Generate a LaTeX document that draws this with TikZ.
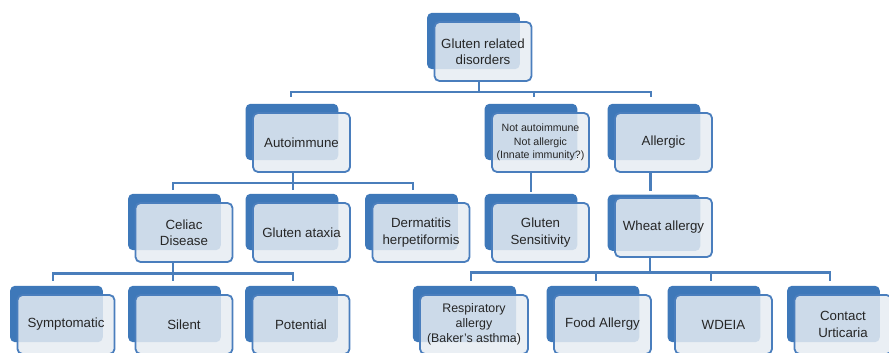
\documentclass[tikz,border=0pt]{standalone}
\usepackage{fontspec}
\setsansfont{Liberation Sans}
\usepackage{tikz}
\usetikzlibrary{shadows}
\definecolor{boxback}{HTML}{3E78B9}
\definecolor{boxline}{HTML}{4A7EBD}
\definecolor{boxfill}{HTML}{E6ECF2}
\definecolor{linkblue}{HTML}{4A7EBB}
\definecolor{ink}{HTML}{262626}
\tikzset{
  link/.style={draw=linkblue,line width=2.8pt},
  gbox/.style={draw=boxline,line width=1.8pt,fill=boxfill,fill opacity=.85,text opacity=1,
               rounded corners=5pt,minimum width=97pt,minimum height=59pt,inner sep=2pt,
               align=center,font=\sffamily\fontsize{13.3}{16.5}\selectfont,text=ink,
               general shadow={draw=none,fill=boxback,fill opacity=1,shadow xshift=-10pt,
                               shadow yshift=#1,shadow scale=.955}},
  gbox/.default=11pt,
  smalltext/.style={font=\sffamily\fontsize{10.6}{13.5}\selectfont},
}
\begin{document}
\begin{tikzpicture}[x=1pt,y=-1pt]
  \useasboundingbox (0,0) rectangle (889,353);
  \node[gbox] (root) at (483,51.5) {Gluten related\\disorders};

  \node[gbox] (auto) at (301.5,142.5) {Autoimmune};
  \node[gbox,smalltext] (nonauto) at (540.5,142.5) {Not autoimmune\\Not allergic\\(Innate immunity?)};
  \node[gbox] (allergic) at (663.5,142.5) {Allergic};

  \node[gbox] (celiac) at (184,232.5) {Celiac\\Disease};
  \node[gbox] (ataxia) at (301.5,232.5) {Gluten ataxia};
  \node[gbox] (derm) at (421,232.5) {Dermatitis\\herpetiformis};
  \node[gbox] (gs) at (540.5,232.5) {Gluten\\Sensitivity};
  \node[gbox=5pt] (wheat) at (663.5,227.5) {Wheat allergy};

  \node[gbox] (symp) at (66,324.5) {Symptomatic};
  \node[gbox] (silent) at (184,324.5) {Silent};
  \node[gbox] (potential) at (301,324.5) {Potential};
  \node[gbox,minimum width=108pt,font=\sffamily\fontsize{12.4}{15}\selectfont] (resp) at (474,324.5) {Respiratory\\allergy\\(Baker's asthma)};
  \node[gbox] (food) at (602.5,324.5) {Food Allergy};
  \node[gbox] (wdeia) at (723.5,324.5) {WDEIA};
  \node[gbox] (contact) at (843,324.5) {Contact\\Urticaria};

  \draw[link] ([xshift=-4pt]root.south) -- ++(0,10) coordinate (bus1);
  \draw[link] (bus1) -| ([xshift=-10.5pt,yshift=15pt]auto.north);
  \draw[link] (bus1) -| ([xshift=-6.5pt,yshift=15pt]nonauto.north);
  \draw[link] (bus1) -| ([xshift=-12.5pt,yshift=15pt]allergic.north);

  \draw[link] ([xshift=-8.5pt]auto.south) -- ++(0,10) coordinate (bus2);
  \draw[link] (bus2) -| ([xshift=-11pt,yshift=12pt]celiac.north);
  \draw[link] (bus2) -| ([xshift=-8.5pt,yshift=12pt]ataxia.north);
  \draw[link] (bus2) -| ([xshift=-8pt,yshift=12pt]derm.north);

  \draw[link] ([xshift=-11pt]celiac.south) -- ++(0,10.5) coordinate (bus3);
  \draw[link] (bus3) -| ([xshift=-13pt,yshift=13pt]symp.north);
  \draw[link] (bus3) -| ([xshift=-11pt,yshift=13pt]silent.north);
  \draw[link] (bus3) -| ([xshift=-8pt,yshift=13pt]potential.north);

  \draw[link] ([xshift=-9.5pt]nonauto.south) -- ([xshift=-9.5pt,yshift=10pt]gs.north);
  \draw[link] ([xshift=-13pt]allergic.south) -- ([xshift=-13pt,yshift=6pt]wheat.north);

  \draw[link] ([xshift=-13.5pt]wheat.south) -- ++(0,14.5) coordinate (bus4);
  \draw[link] (bus4) -| ([xshift=-3pt,yshift=13pt]resp.north);
  \draw[link] (bus4) -| ([xshift=-6.5pt,yshift=13pt]food.north);
  \draw[link] (bus4) -| ([xshift=-12.5pt,yshift=13pt]wdeia.north);
  \draw[link] (bus4) -| ([xshift=-13pt,yshift=13pt]contact.north);
\end{tikzpicture}
\end{document}
